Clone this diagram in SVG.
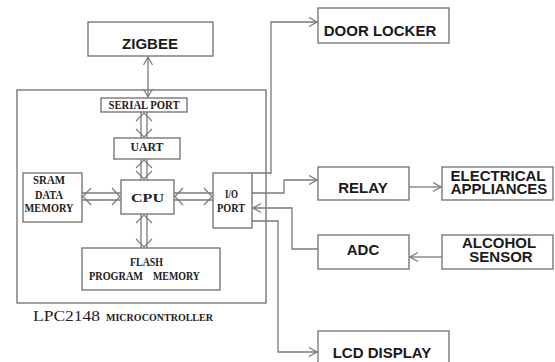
<svg xmlns="http://www.w3.org/2000/svg" width="555" height="362" viewBox="0 0 555 362">
<defs>
<style>
.box{fill:#fff;stroke:#6e6e6e;stroke-width:1.3}
.frame{fill:none;stroke:#6e6e6e;stroke-width:1.3}
.ln{fill:none;stroke:#7a7a7a;stroke-width:1.3}
.chev{fill:none;stroke:#7a7a7a;stroke-width:1.2}
.sans{font-family:"Liberation Sans",Arial,sans-serif;font-weight:bold;font-size:15px;fill:#1a1a1a;text-anchor:middle}
.serif{font-family:"Liberation Serif","Times New Roman",serif;font-weight:bold;font-size:12px;fill:#222;text-anchor:middle}
.cap{font-family:"Liberation Serif","Times New Roman",serif;fill:#222}
</style>
<marker id="arr" viewBox="0 0 10 10" refX="9" refY="5" markerWidth="10" markerHeight="10" markerUnits="userSpaceOnUse" orient="auto-start-reverse">
<path d="M1,0.5 L9,5 L1,9.5" fill="none" stroke="#7a7a7a" stroke-width="1.2"/>
</marker>
</defs>
<rect width="555" height="362" fill="#fff"/>

<g id="lpc2148">
<rect class="frame" x="17" y="90" width="249" height="213"/>
<text class="cap" x="33" y="321" font-size="14" textLength="67" lengthAdjust="spacingAndGlyphs">LPC2148</text>
<text class="cap" x="106" y="321" font-size="9.5" font-weight="bold" textLength="107" lengthAdjust="spacingAndGlyphs">MICROCONTROLLER</text>
</g>

<g id="zigbee">
<rect class="box" x="88" y="22" width="125" height="34"/>
<text class="sans" x="150" y="49" font-size="15.5">ZIGBEE</text>
</g>

<g id="serial-port">
<rect class="box" x="101" y="98" width="86" height="14"/>
<text class="serif" x="144" y="109" textLength="71" lengthAdjust="spacingAndGlyphs">SERIAL  PORT</text>
</g>

<g id="uart">
<rect class="box" x="114" y="138" width="66" height="21"/>
<text class="serif" x="147" y="151" textLength="33" lengthAdjust="spacingAndGlyphs">UART</text>
</g>

<g id="cpu">
<rect class="box" x="121" y="180" width="53" height="34"/>
<text class="serif" x="147.5" y="202" font-size="19" textLength="33" lengthAdjust="spacingAndGlyphs">CPU</text>
</g>

<g id="sram">
<rect class="box" x="23" y="173" width="59" height="49"/>
<text class="serif" x="49" y="184" textLength="32" lengthAdjust="spacingAndGlyphs">SRAM</text>
<text class="serif" x="49" y="199" textLength="28" lengthAdjust="spacingAndGlyphs">DATA</text>
<text class="serif" x="49" y="212" textLength="49" lengthAdjust="spacingAndGlyphs">MEMORY</text>
</g>

<g id="io-port">
<rect class="box" x="213" y="173" width="39" height="55"/>
<text class="serif" x="231.5" y="198" textLength="13" lengthAdjust="spacingAndGlyphs">I/O</text>
<text class="serif" x="231" y="212" textLength="28" lengthAdjust="spacingAndGlyphs">PORT</text>
</g>

<g id="flash">
<rect class="box" x="82" y="248" width="138" height="42"/>
<text class="serif" x="146.5" y="266" textLength="33" lengthAdjust="spacingAndGlyphs">FLASH</text>
<text class="serif" x="116" y="280" textLength="54" lengthAdjust="spacingAndGlyphs">PROGRAM</text>
<text class="serif" x="176.5" y="280" textLength="47" lengthAdjust="spacingAndGlyphs">MEMORY</text>
</g>

<g id="door-locker">
<rect class="box" x="318" y="8" width="131" height="35"/>
<text class="sans" x="380" y="36">DOOR LOCKER</text>
</g>

<g id="relay">
<rect class="box" x="318" y="167" width="91" height="33"/>
<text class="sans" x="363" y="193">RELAY</text>
</g>

<g id="electrical-appliances">
<rect class="box" x="442" y="167" width="111" height="33"/>
<text class="sans" x="498" y="180.5" font-size="14.5">ELECTRICAL</text>
<text class="sans" x="499" y="194" font-size="14.5">APPLIANCES</text>
</g>

<g id="adc">
<rect class="box" x="318" y="235" width="91" height="34"/>
<text class="sans" x="363" y="255">ADC</text>
</g>

<g id="alcohol-sensor">
<rect class="box" x="442" y="235" width="111" height="34"/>
<text class="sans" x="499" y="247.5" font-size="14.5">ALCOHOL</text>
<text class="sans" x="501" y="262" font-size="14.5">SENSOR</text>
</g>

<g id="lcd-display">
<rect class="box" x="318" y="331" width="131" height="40"/>
<text class="sans" x="382" y="358" font-size="16">LCD DISPLAY</text>
</g>

<g id="connectors">
<line class="ln" x1="148" y1="57" x2="148" y2="97" marker-start="url(#arr)" marker-end="url(#arr)"/>
<line class="ln" x1="141" y1="112" x2="141" y2="138"/>
<line class="ln" x1="147" y1="112" x2="147" y2="138"/>
<polyline class="chev" points="136,121 144,113 152,121"/>
<polyline class="chev" points="136,129 144,137 152,129"/>
<line class="ln" x1="141" y1="159" x2="141" y2="180"/>
<line class="ln" x1="147" y1="159" x2="147" y2="180"/>
<polyline class="chev" points="136,168 144,160 152,168"/>
<polyline class="chev" points="136,171 144,179 152,171"/>
<line class="ln" x1="141" y1="214" x2="141" y2="248"/>
<line class="ln" x1="147" y1="214" x2="147" y2="248"/>
<polyline class="chev" points="136,223 144,215 152,223"/>
<polyline class="chev" points="136,239 144,247 152,239"/>
<line class="ln" x1="82" y1="193" x2="121" y2="193"/>
<line class="ln" x1="82" y1="200" x2="121" y2="200"/>
<polyline class="chev" points="91,188 83,196.5 91,205"/>
<polyline class="chev" points="112,188 120,196.5 112,205"/>
<line class="ln" x1="174" y1="193" x2="213" y2="193"/>
<line class="ln" x1="174" y1="200" x2="213" y2="200"/>
<polyline class="chev" points="183,188 175,196.5 183,205"/>
<polyline class="chev" points="204,188 212,196.5 204,205"/>
<polyline class="ln" points="252,173 271,173 271,22 317,22" marker-end="url(#arr)"/>
<polyline class="ln" points="252,193 284,193 284,180 317,180" marker-end="url(#arr)"/>
<line class="ln" x1="409" y1="187" x2="441" y2="187" marker-end="url(#arr)"/>
<polyline class="ln" points="318,249 292,249 292,208 253,208" marker-end="url(#arr)"/>
<line class="ln" x1="442" y1="257" x2="410" y2="257" marker-end="url(#arr)"/>
<polyline class="ln" points="252,221 278,221 278,352 317,352" marker-end="url(#arr)"/>
</g>
</svg>
